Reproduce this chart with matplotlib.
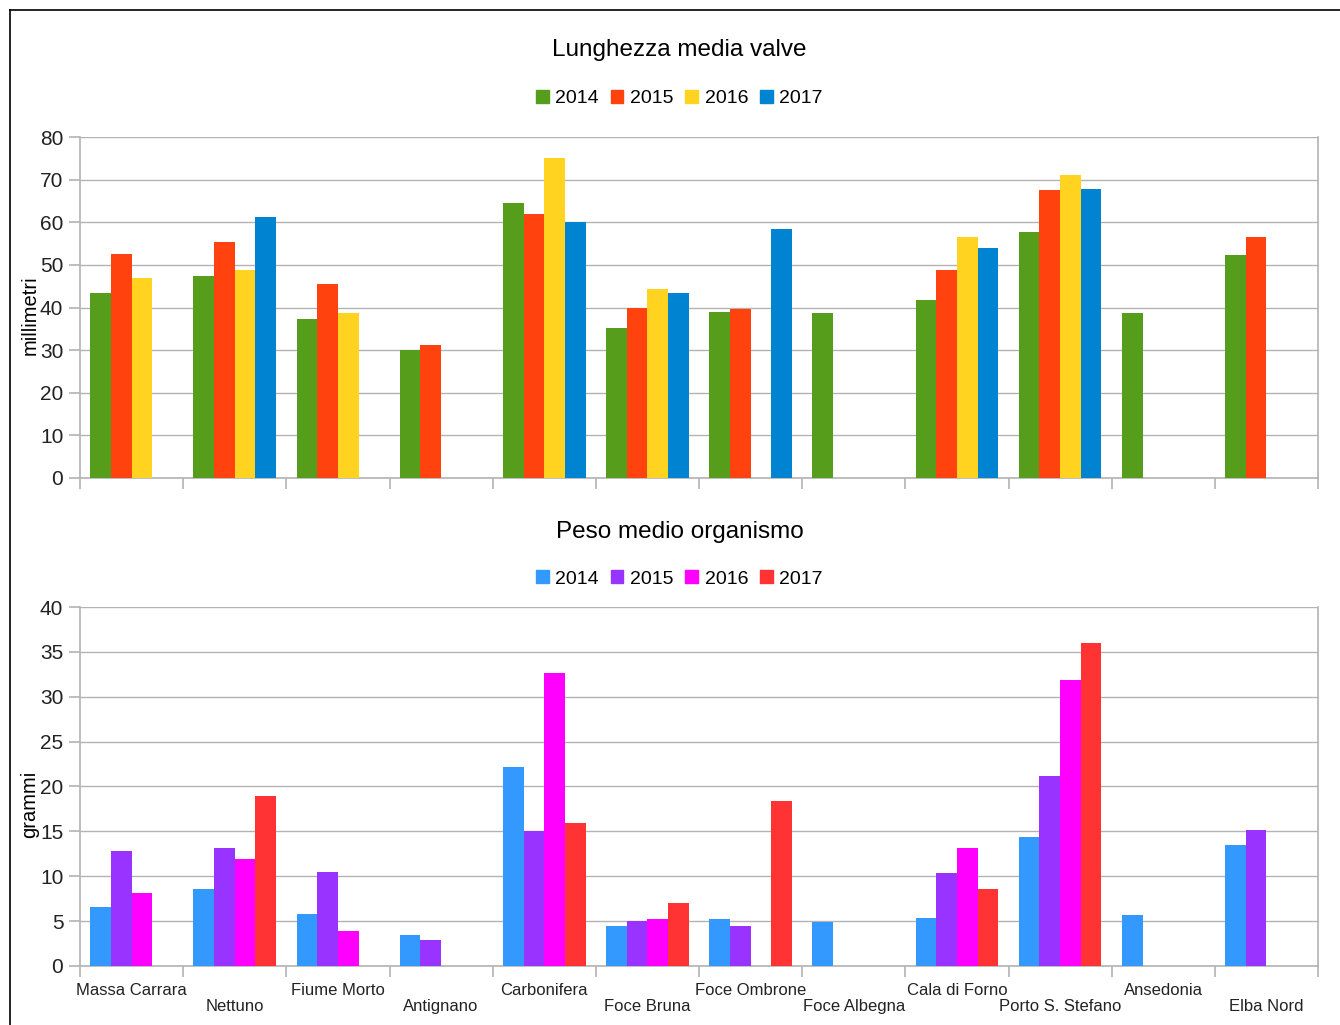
import numpy as np
import matplotlib
matplotlib.use('Agg')
import matplotlib.pyplot as plt
from matplotlib.patches import Patch
from matplotlib.lines import Line2D

plt.rcParams['font.family'] = ['Liberation Sans', 'DejaVu Sans']

# stazioni di campionamento
stazioni = ['Massa Carrara', 'Nettuno', 'Fiume Morto', 'Antignano', 'Carbonifera',
            'Foce Bruna', 'Foce Ombrone', 'Foce Albegna', 'Cala di Forno',
            'Porto S. Stefano', 'Ansedonia', 'Elba Nord']
anni = ['2014', '2015', '2016', '2017']
nan = np.nan

# lunghezza media valve (mm)
lung_2014 = [43.4, 47.4, 37.3, 30.0, 64.5, 35.2, 38.9, 38.7, 41.8, 57.7, 38.6, 52.3]
lung_2015 = [52.6, 55.4, 45.5, 31.2, 61.9, 39.9, 39.6, nan, 48.8, 67.6, nan, 56.5]
lung_2016 = [46.9, 48.8, 38.7, nan, 75.1, 44.3, nan, nan, 56.5, 71.1, nan, nan]
lung_2017 = [nan, 61.2, nan, nan, 60.1, 43.4, 58.4, nan, 54.0, 67.8, nan, nan]

# peso medio organismo (g)
peso_2014 = [6.6, 8.6, 5.8, 3.4, 22.2, 4.4, 5.25, 4.9, 5.4, 14.4, 5.7, 13.5]
peso_2015 = [12.8, 13.2, 10.5, 2.9, 15.0, 5.0, 4.4, nan, 10.4, 21.2, nan, 15.2]
peso_2016 = [8.15, 11.9, 3.9, nan, 32.7, 5.25, nan, nan, 13.2, 31.9, nan, nan]
peso_2017 = [nan, 18.9, nan, nan, 15.9, 7.05, 18.4, nan, 8.6, 36.0, nan, nan]

col_lung = ['#579d1c', '#ff420e', '#ffd320', '#0084d1']
col_peso = ['#3399ff', '#9933ff', '#ff00ff', '#ff3333']

grigio = '#b3b3b3'
fig = plt.figure(figsize=(13.4, 10.25), dpi=100)

# cornice del riquadro
fig.add_artist(Line2D([10/1340, 1.0], [1-10/1025, 1-10/1025], color='black', lw=1.2))
fig.add_artist(Line2D([10/1340, 10/1340], [0, 1-10/1025], color='black', lw=1.2))


def grafico(ax, serie, colori, ymax, passo, ylabel, ylab_y, etichette):
    x = np.arange(len(stazioni))
    w = 0.2
    for i, s in enumerate(serie):
        ax.bar(x + (i - 1.5) * w, s, w, color=colori[i], linewidth=0, zorder=3)
    ax.set_xlim(-0.5, len(stazioni) - 0.5)
    ax.set_ylim(0, ymax)
    ax.set_yticks(np.arange(0, ymax + 1, passo))
    ax.grid(axis='y', color=grigio, lw=1, zorder=0)
    ax.set_xticks(np.arange(-0.5, len(stazioni)), labels=[])
    ax.tick_params(axis='x', which='major', length=8, color=grigio, width=1.2)
    ax.tick_params(axis='y', length=8, color=grigio, width=1.2, labelsize=15, pad=4,
                   labelcolor='#222222')
    if etichette:
        lab = [s if i % 2 == 0 else '\n' + s for i, s in enumerate(stazioni)]
        ax.set_xticks(x, labels=lab, minor=True)
        ax.tick_params(axis='x', which='minor', length=0, labelsize=12, pad=12,
                       labelcolor='#222222')
        for t in ax.get_xticklabels(minor=True):
            t.set_linespacing(1.15)
    for lato in ['left', 'right', 'bottom']:
        ax.spines[lato].set_color(grigio)
        ax.spines[lato].set_linewidth(1.2)
    ax.spines['top'].set_visible(False)
    ax.set_ylabel(ylabel, fontsize=14.5, va='center')
    ax.yaxis.set_label_coords(-0.0404, ylab_y)


ax1 = fig.add_axes([0.0597, 0.5337, 0.9239, 0.3326])
grafico(ax1, [lung_2014, lung_2015, lung_2016, lung_2017], col_lung, 80, 10,
        'millimetri', 0.478, False)

ax2 = fig.add_axes([0.0597, 0.0576, 0.9239, 0.3502])
grafico(ax2, [peso_2014, peso_2015, peso_2016, peso_2017], col_peso, 40, 5,
        'grammi', 0.45, True)

fig.text(0.507, 0.951, 'Lunghezza media valve', ha='center', va='center', fontsize=17.5)
fig.text(0.507, 0.481, 'Peso medio organismo', ha='center', va='center', fontsize=17.5)

for colori, yy in [(col_lung, 0.904), (col_peso, 0.435)]:
    h = [Patch(color=c) for c in colori]
    fig.legend(h, anni, loc='center', bbox_to_anchor=(0.507, yy), ncol=4,
               frameon=False, fontsize=14, handlelength=0.65, handleheight=0.65,
               handletextpad=0.35, columnspacing=0.6)

fig.savefig('out.png', dpi=100)
